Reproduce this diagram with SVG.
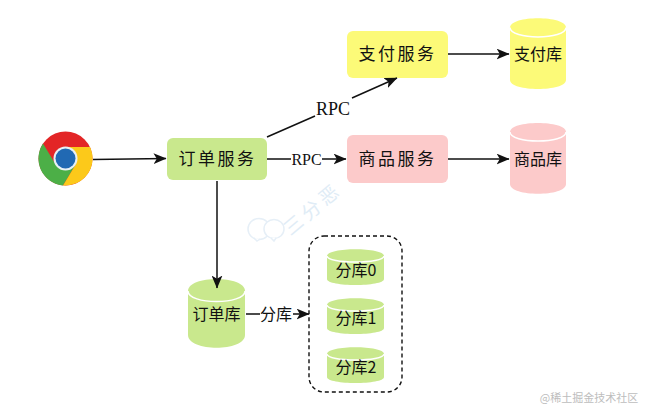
<svg xmlns="http://www.w3.org/2000/svg" width="650" height="417" viewBox="0 0 650 417">
<style>
text{font-family:"Noto Sans CJK SC","Liberation Serif",serif;fill:#111;text-anchor:middle}
.t{font-size:17px;letter-spacing:2.500px}
.s{font-size:16px}
.r{font-family:"Liberation Serif","Noto Sans CJK SC",serif}
.l{fill:none;stroke:#111;stroke-width:1.500}
.sep{fill:none;stroke:#fff;stroke-width:1.500}
</style>
<defs>
<marker id="a" viewBox="0 0 12 10" refX="11.500" refY="5" markerWidth="13" markerHeight="11" markerUnits="userSpaceOnUse" orient="auto"><path d="M0 0L12 5L0 10L3 5Z" fill="#111"/></marker>
</defs>
<rect width="650" height="417" fill="#fff"/>
<g id="watermark">
<g fill="#fff" stroke="#e6eff7" stroke-width="1.500">
<ellipse cx="259" cy="229" rx="11" ry="10.500"/><ellipse cx="274" cy="229" rx="10" ry="9.500"/>
<path d="M254 238L257 241L260 239M271 238L274 241L276 238"/>
</g>
<text x="317" y="214" transform="rotate(-40 317 214)" style="font-size:19px;letter-spacing:4px;fill:#e0ecf6">三分恶</text>
</g>
<g id="chrome">
<circle cx="65.500" cy="158.500" r="27" fill="#e32526"/>
<path d="M43 143.500A27 27 0 0 0 63 185.400L76 164L56 165Z" fill="#4caf47"/>
<path d="M90 147A27 27 0 0 1 63 185.400L76 164L66 147Z" fill="#fcc91a"/>
<circle cx="65.500" cy="158.500" r="12" fill="#e8f0f5"/>
<circle cx="65.500" cy="158.500" r="10" fill="#2169b3"/>
</g>
<g id="order-service"><rect x="167" y="138" width="100" height="42" rx="6" fill="#c9e88d"/><text class="t" x="217.500" y="165">订单服务</text></g>
<g id="pay-service"><rect x="347" y="31" width="101" height="47" rx="6" fill="#fcfa78"/><text class="t" x="397.500" y="60">支付服务</text></g>
<g id="goods-service"><rect x="347" y="135" width="101" height="48" rx="6" fill="#fccaca"/><text class="t" x="397.500" y="165">商品服务</text></g>
<g id="pay-db"><path d="M510 27.500C510 15 566 15 566 27.500V80C566 92 510 92 510 80Z" fill="#fcfa78"/><path class="sep" d="M510 27.500C510 40 566 40 566 27.500"/><text class="s" x="538" y="60">支付库</text></g>
<g id="goods-db"><path d="M510 132C510 120 566 120 566 132V184C566 197 510 197 510 184Z" fill="#fccaca"/><path class="sep" d="M510 132C510 144 566 144 566 132"/><text class="s" x="538" y="165">商品库</text></g>
<g id="order-db"><path d="M188 291C188 275 245 275 245 291V335C245 352 188 352 188 335Z" fill="#c9e88d"/><path class="sep" d="M188 291C188 305 245 305 245 291"/><text class="s" x="216.500" y="320">订单库</text></g>
<g id="shards"><rect x="309" y="236" width="93" height="156" rx="15" fill="none" stroke="#111" stroke-width="1.400" stroke-dasharray="4 3"/></g>
<g id="shard0"><path d="M327 256C327 247 384 247 384 256V279C384 287 327 287 327 279Z" fill="#c9e88d"/><path class="sep" d="M327 256C327 264 384 264 384 256"/><text class="s" x="356" y="276">分库0</text></g>
<g id="shard1"><path d="M327 305C327 296 384 296 384 305V328C384 336 327 336 327 328Z" fill="#c9e88d"/><path class="sep" d="M327 305C327 313 384 313 384 305"/><text class="s" x="356" y="324">分库1</text></g>
<g id="shard2"><path d="M327 354C327 345 384 345 384 354V377C384 385 327 385 327 377Z" fill="#c9e88d"/><path class="sep" d="M327 354C327 362 384 362 384 354"/><text class="s" x="356" y="373">分库2</text></g>
<g id="connectors">
<path class="l" d="M93 159.500L166 158.500" marker-end="url(#a)"/>
<path class="l" d="M267 137L315 116M352 98L397 78" marker-end="url(#a)"/>
<path class="l" d="M267 159H291M322 159H346" marker-end="url(#a)"/>
<path class="l" d="M448 54H509" marker-end="url(#a)"/>
<path class="l" d="M448 159H509" marker-end="url(#a)"/>
<path class="l" d="M217 181V288" marker-end="url(#a)"/>
<path class="l" d="M246 314H260M293 314H309" marker-end="url(#a)"/>
</g>
<g id="labels">
<text class="r" x="333" y="115" style="font-size:18px">RPC</text>
<text class="r" x="306.500" y="165" style="font-size:16px">RPC</text>
<text class="s" x="276" y="320">分库</text>
</g>
<text x="589" y="402" style="font-family:'Noto Sans CJK SC',sans-serif;font-size:11px;fill:#bdbdbd">@稀土掘金技术社区</text>
</svg>
